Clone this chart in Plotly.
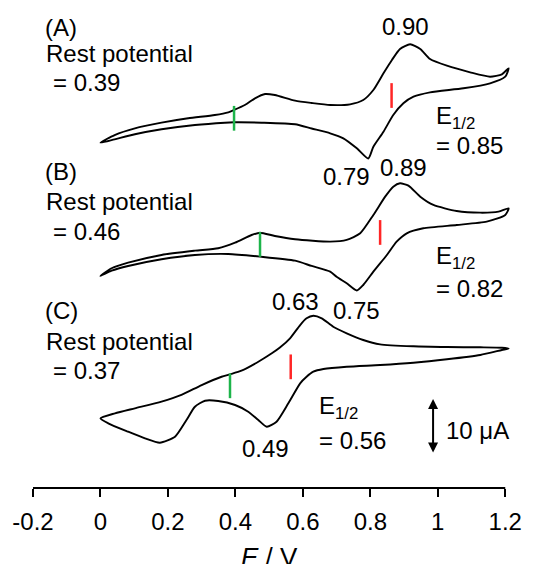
import plotly.graph_objects as go

# ---------------- data (E in V, current in uA relative to each CV's start) ----------------
E_A = [0.0, 0.042, 0.102, 0.181, 0.260, 0.339, 0.379, 0.396, 0.428, 0.458, 0.488, 0.517, 0.577,
       0.626, 0.681, 0.740, 0.779, 0.809, 0.839, 0.864, 0.888, 0.918, 0.948, 0.977, 1.027, 1.096,
       1.155, 1.190, 1.210,
       1.200, 1.155, 1.076, 0.977, 0.928, 0.898, 0.868, 0.839, 0.809, 0.794, 0.760, 0.720, 0.681,
       0.626, 0.577, 0.478, 0.396, 0.369, 0.280, 0.181, 0.102, 0.042, 0.0]
I_A = [0.0, 1.40, 2.62, 3.64, 4.44, 5.04, 5.53, 5.95, 6.85, 8.07, 8.85, 8.67, 7.64,
       7.22, 6.85, 6.98, 7.76, 9.58, 12.62, 15.04, 17.04, 17.89, 17.04, 15.22, 14.00, 12.80,
       12.00, 12.44, 13.53,
       12.00, 10.80, 9.89, 9.16, 8.36, 7.16, 5.04, 2.00, -0.73, -2.87, -1.02, 0.80, 1.71,
       2.58, 3.35, 3.64, 3.71, 3.64, 3.22, 2.44, 1.53, 0.62, 0.0]

E_B = [0.0, 0.033, 0.082, 0.181, 0.280, 0.349, 0.399, 0.448, 0.473, 0.517, 0.577, 0.681, 0.730,
       0.770, 0.809, 0.844, 0.868, 0.888, 0.913, 0.948, 0.987, 1.056, 1.126, 1.180, 1.210,
       1.200, 1.145, 1.056, 0.957, 0.908, 0.878, 0.849, 0.809, 0.779, 0.760, 0.730, 0.700, 0.681,
       0.626, 0.577, 0.473, 0.379, 0.280, 0.181, 0.082, 0.033, 0.0]
I_B = [0.0, 1.40, 2.42, 3.82, 4.60, 5.04, 6.05, 7.45, 7.87, 7.27, 6.67, 6.24, 6.55,
       7.76, 11.09, 14.42, 16.24, 16.85, 16.42, 14.42, 12.91, 11.82, 11.51, 11.69, 12.31,
       11.09, 9.87, 9.27, 8.67, 7.76, 6.24, 3.82, 0.78, -1.64, -2.64, -1.33, -0.13, 0.78,
       1.82, 2.78, 3.51, 4.00, 3.82, 3.04, 1.82, 0.96, 0.0]

E_C = [0.0, 0.043, 0.102, 0.181, 0.240, 0.300, 0.359, 0.384, 0.418, 0.468, 0.508, 0.532, 0.562,
       0.592, 0.611, 0.631, 0.656, 0.690, 0.730, 0.779, 0.829, 0.928, 1.027, 1.126, 1.190, 1.210,
       1.190, 1.126, 1.027, 0.928, 0.829, 0.730, 0.661, 0.631, 0.611, 0.592, 0.557, 0.522, 0.493,
       0.468, 0.438, 0.399, 0.349, 0.310, 0.280, 0.255, 0.221, 0.176, 0.132, 0.082, 0.023, 0.0]
I_C = [0.0, 0.91, 1.82, 3.02, 4.24, 6.05, 7.56, 8.00, 8.65, 10.29, 11.82, 12.87, 14.55,
       16.96, 18.18, 18.65, 18.18, 16.65, 15.45, 14.24, 13.45, 13.09, 12.96, 12.91, 12.84, 12.69,
       12.42, 11.51, 10.73, 10.11, 9.69, 9.38, 8.96, 8.47, 7.56, 6.36, 2.73, -0.62, -1.53,
       -0.31, 1.20, 2.42, 3.15, 3.20, 2.11, -0.31, -3.35, -4.44, -3.64, -2.44, -0.91, 0.0]

panels = ["(A)", "(B)", "(C)"]
offsets = [62.78, 38.55, 12.67]           # vertical stacking offsets (uA)
rest_text = ["0.39", "0.46", "0.37"]      # printed rest potentials
half_text = ["0.85", "0.82", "0.56"]      # printed E1/2 values
anodic_text = ["0.90", "0.89", "0.63"]
cathodic_text = ["0.79", "0.75", "0.49"]
rest_mark_E = [0.396, 0.473, 0.384]       # green markers (V, as drawn)
rest_mark_I = [4.44, 5.73, 5.91]          # marker centre (uA, relative)
half_mark_E = [0.863, 0.829, 0.564]       # red markers (V, as drawn)
half_mark_I = [8.58, 7.91, 9.36]
mark_half_len = 2.25                      # uA

x_ticks = [-0.2, 0, 0.2, 0.4, 0.6, 0.8, 1, 1.2]
x_tick_text = ["-0.2", "0", "0.2", "0.4", "0.6", "0.8", "1", "1.2"]
x_min, x_max, x_view_max = -0.2, 1.2, 1.22
scale_uA = 10

FONT = "Liberation Sans, Arial, sans-serif"

fig = go.Figure()
curves = [(E_A, I_A), (E_B, I_B), (E_C, I_C)]
for (E, I), off in zip(curves, offsets):
    fig.add_trace(go.Scatter(x=E, y=[v + off for v in I], mode="lines",
                             line=dict(color="black", width=1.9, shape="spline", smoothing=0.6),
                             hoverinfo="skip", showlegend=False))

for k in range(3):
    off = offsets[k]
    for e, c, col in [(rest_mark_E[k], rest_mark_I[k], "#1db44a"),
                      (half_mark_E[k], half_mark_I[k], "#ff2626")]:
        fig.add_trace(go.Scatter(x=[e, e], y=[off + c - mark_half_len, off + c + mark_half_len],
                                 mode="lines", line=dict(color=col, width=2.5),
                                 hoverinfo="skip", showlegend=False))

# helpers for text placement in reference pixel terms (x: 337 px/V, y: 5.5 px/uA)
def X(px):
    return (px - 100.7) / 337.0

def Y(py):
    return (488 - py) / 5.5

ann = []
def txt(s, px, py, xa="left", size=24):
    ann.append(dict(text=s, x=X(px), y=Y(py), xref="x", yref="y", xanchor=xa, yanchor="middle",
                    showarrow=False, font=dict(family=FONT, size=size, color="black")))

label_rows = [
    # panel, rest, "=", anodic(x,y), cathodic(x,y), E1/2 x, E1/2 y, "=" y
    (27, 53, 82.5, (405, 26.5), (346, 176.5), 434, 117, 145.5),
    (171.5, 201.3, 231.5, (403, 167), (356, 310), 434, 257, 288.3),
    (310, 341.3, 370, (296, 301.7), (266, 448.3), 317, 407, 440),
]
for k, (yp, yr, ye, (ax_, ay_), (cx_, cy_), hx, hy, hey) in enumerate(label_rows):
    txt(panels[k], 43, yp)
    txt("Rest potential", 44, yr)
    txt("= " + rest_text[k], 51.5, ye)
    txt(anodic_text[k], ax_, ay_, "center")
    txt(cathodic_text[k], cx_, cy_, "center")
    txt("E<sub>1/2</sub>", hx, hy)
    txt("= " + half_text[k], hx, hey)

txt("%d μA" % scale_uA, 444, 430)

# scale bar (10 uA)
bar_x = X(433)
bar_y0 = Y(454)
ann.append(dict(x=bar_x, y=bar_y0 + scale_uA, ax=bar_x, ay=bar_y0, xref="x", yref="y",
                axref="x", ayref="y", text="", showarrow=True, arrowhead=2, arrowsize=1,
                arrowwidth=2, arrowside="end+start", arrowcolor="black", standoff=0, startstandoff=0))

# axis title (partly cut at the bottom edge, as in the reference)
ann.append(dict(text="<i>E</i> / V", x=0.5, y=-0.108, xref="x", yref="paper", xanchor="center",
                yanchor="top", showarrow=False, font=dict(family=FONT, size=26, color="black")))

# axis line spanning only -0.2 .. 1.2 (the view extends a little past 1.2 for the CV tips)
shapes = [dict(type="line", xref="x", yref="paper", x0=x_min, x1=x_max, y0=0, y1=0,
               line=dict(color="black", width=2))]

# page has an 8px body margin: figure is 525x556 and sits at (8, 8)
plot_w = (x_view_max - x_min) * 337.0
fig.update_layout(
    width=525, height=556,
    margin=dict(l=25, r=int(round(525 - 25.3 - plot_w)), t=0, b=76),
    paper_bgcolor="white", plot_bgcolor="white",
    annotations=ann, shapes=shapes,
    xaxis=dict(range=[x_min, x_view_max], tickvals=x_ticks, ticktext=x_tick_text,
               showline=False, ticks="outside",
               ticklen=8, tickwidth=2, tickcolor="black", showgrid=False, zeroline=False,
               ticklabelstandoff=4,
               tickfont=dict(family=FONT, size=24, color="black")),
    yaxis=dict(range=[0, 480 / 5.5], visible=False, showgrid=False, zeroline=False),
)

fig.write_html("out.html")
